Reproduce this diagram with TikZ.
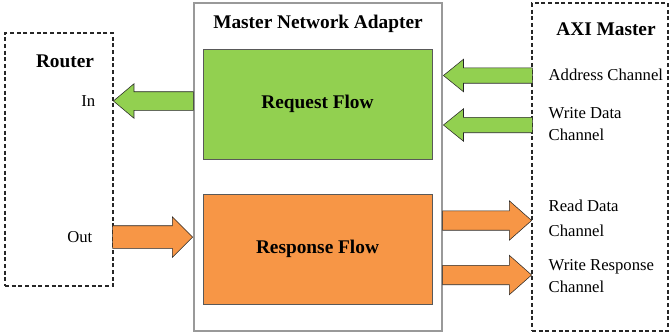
\documentclass[tikz,border=0pt]{standalone}
\usepackage{fontspec}
\setmainfont{Liberation Serif}
\usetikzlibrary{shapes,shapes.arrows}
\definecolor{reqgreen}{HTML}{92D050}
\definecolor{resorange}{HTML}{F79646}
\tikzset{
  dashbox/.style={draw=black!85, densely dashed, thick, rectangle},
  flowbox/.style={draw=black!65, rectangle, minimum width=171.75pt,
    minimum height=82.5pt, font=\fontsize{14.5}{17}\selectfont\bfseries},
  blockarrow/.style={single arrow, draw=black!85, inner xsep=0pt, anchor=tip},
  chanlabel/.style={anchor=west, align=left, font=\fontsize{12.5}{17}\selectfont},
  titlelabel/.style={font=\fontsize{14.5}{17}\selectfont\bfseries}
}
\begin{document}
\begin{tikzpicture}[x=0.75pt,y=-0.75pt]
\useasboundingbox (0,0) rectangle (669,333);

% boxes
\node[dashbox, minimum width=81pt, minimum height=189.75pt] (router) at (59,159.5) {};
\node[draw=black!40, thick, rectangle, minimum width=186pt,
    minimum height=246pt] (adapter) at (318,167) {};
\node[dashbox, minimum width=102pt, minimum height=246pt] (axi) at (600,167) {};

\node[flowbox, fill=reqgreen] (request) at (317.5,104) {Request Flow};
\node[flowbox, fill=resorange] (response) at (317.5,249) {Response Flow};

% titles
\node[titlelabel] (routertitle) at (65,61) {Router};
\node[titlelabel] (adaptertitle) at (318,24) {Master Network Adapter};
\node[titlelabel] (axititle) at (606,29) {AXI Master};

% router ports
\node[anchor=east, font=\fontsize{12.5}{15}\selectfont] (inlabel) at (100,101) {In};
\node[anchor=east, font=\fontsize{12.5}{15}\selectfont] (outlabel) at (97,237) {Out};

% arrows on the router side
\node[blockarrow, fill=reqgreen, shape border rotate=180,
    minimum height=60pt, inner ysep=6.75pt, single arrow head extend=6pt,
    single arrow tip angle=80] (toin) at (113,101) {};
\node[blockarrow, fill=resorange,
    minimum height=60pt, inner ysep=8.25pt, single arrow head extend=6.75pt,
    single arrow tip angle=90] (fromout) at (193,237) {};

% arrows on the AXI side
\node[blockarrow, fill=reqgreen, shape border rotate=180,
    minimum height=66.75pt, inner ysep=5.6pt, single arrow head extend=6.4pt,
    single arrow tip angle=78] (addr) at (443,75.5) {};
\node[blockarrow, fill=reqgreen, shape border rotate=180,
    minimum height=66.75pt, inner ysep=5.6pt, single arrow head extend=6.4pt,
    single arrow tip angle=78] (wdata) at (443,125) {};
\node[blockarrow, fill=resorange,
    minimum height=66.75pt, inner ysep=7.1pt, single arrow head extend=7.5pt,
    single arrow tip angle=83] (rdata) at (532,220.5) {};
\node[blockarrow, fill=resorange,
    minimum height=66.75pt, inner ysep=7.1pt, single arrow head extend=7.5pt,
    single arrow tip angle=83] (wresp) at (532,275) {};

% channel labels
\node[chanlabel] (addrlabel) at (544,75) {Address Channel};
\node[chanlabel] (wdatalabel) at (544,124) {Write Data\\Channel};
\node[chanlabel] (rdatalabel) at (544,218) {Read Data\\[2pt]Channel};
\node[chanlabel] (wresplabel) at (544,276) {Write Response\\Channel};
\end{tikzpicture}
\end{document}
